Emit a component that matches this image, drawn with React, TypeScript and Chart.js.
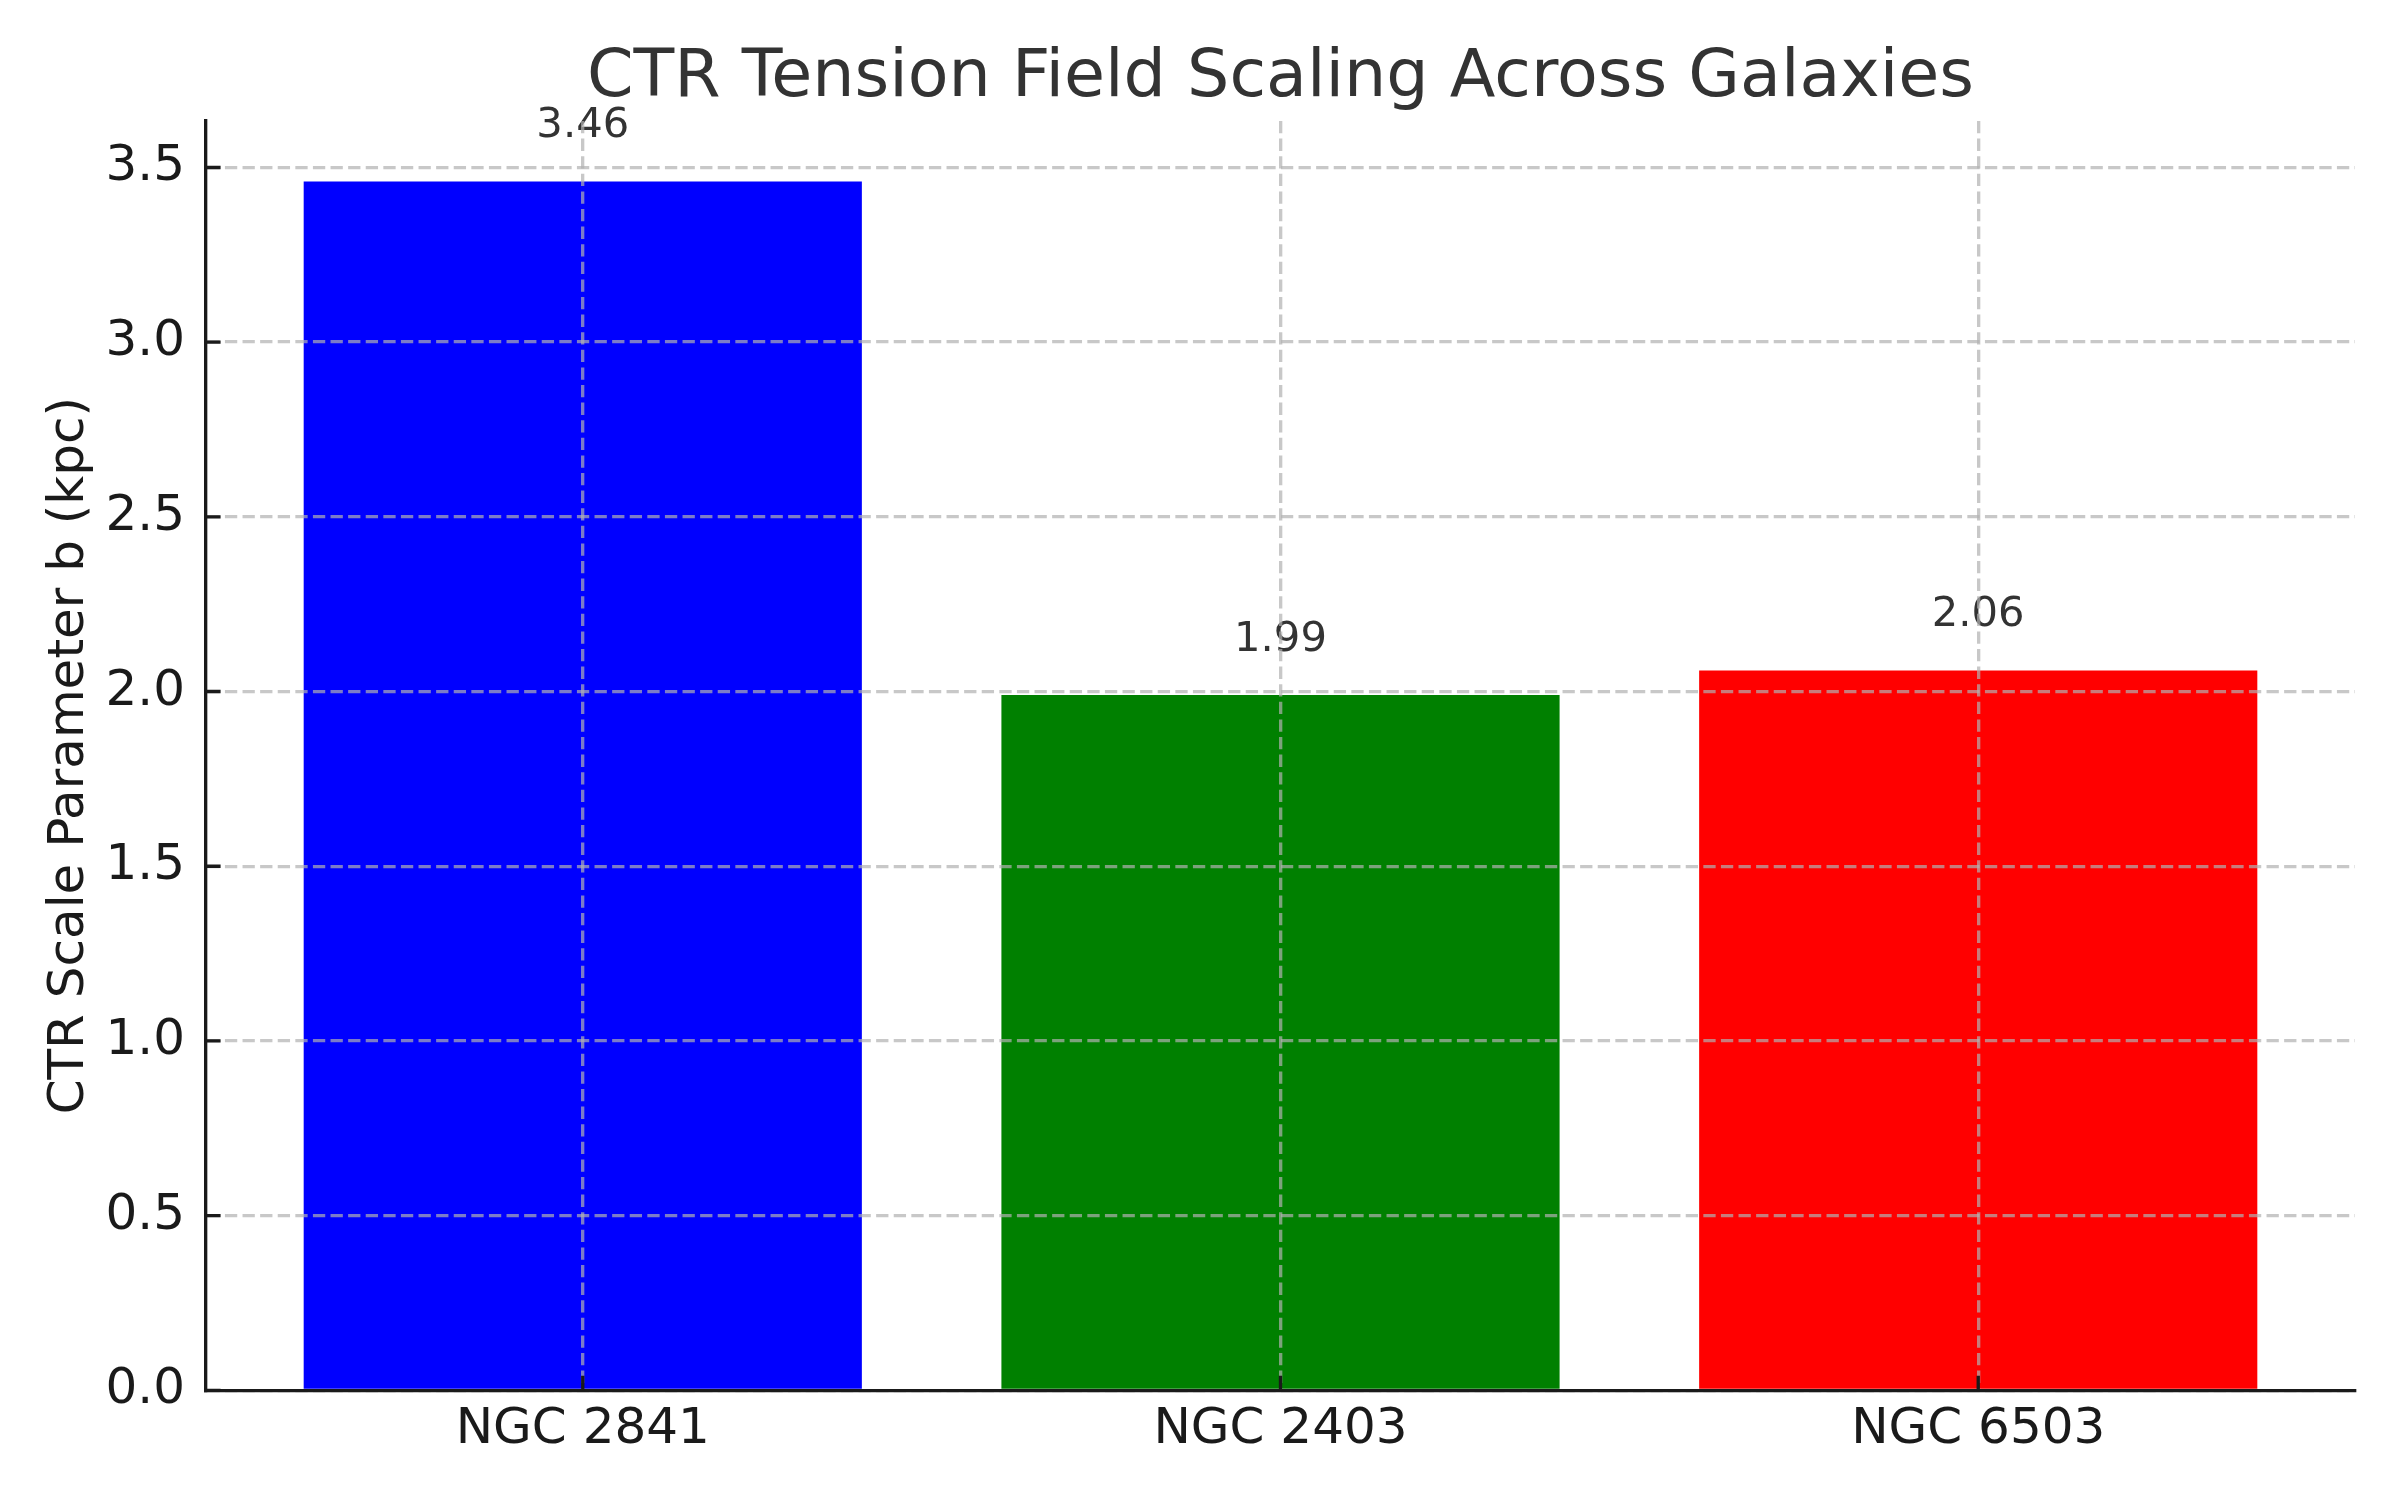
import React, { useEffect, useRef } from 'react';
import { Chart, registerables } from 'chart.js';

Chart.register(...registerables);

const categories = ['NGC 2841', 'NGC 2403', 'NGC 6503'];
const values = [3.46, 1.99, 2.06];
const barColors = ['#0000ff', '#008000', '#ff0000'];
const yTicks = [0, 0.5, 1, 1.5, 2, 2.5, 3, 3.5];
const xTicks = [0, 1, 2];
const titleText = 'CTR Tension Field Scaling Across Galaxies';
const yLabel = 'CTR Scale Parameter b (kpc)';
const yMax = 3.633;
const xMin = -0.54;
const xMax = 2.54;
const labelOffset = 0.1;

const FONT = '"DejaVu Sans", "Liberation Sans", sans-serif';
const INK = '#1a1a1a';
const GRID = 'rgba(176,176,176,0.7)';

const overlay = {
  id: 'overlay',
  afterDatasetsDraw(chart: any) {
    const ctx = chart.ctx;
    const xs = chart.scales.x;
    const ys = chart.scales.y;
    ctx.save();
    ctx.font = `41.7px ${FONT}`;
    ctx.fillStyle = '#333333';
    ctx.textAlign = 'center';
    ctx.textBaseline = 'alphabetic';
    values.forEach((v, i) => {
      ctx.fillText(v.toFixed(2), xs.getPixelForValue(xTicks[i]), ys.getPixelForValue(v + labelOffset) - 9.4);
    });
    ctx.restore();
  },
  afterDraw(chart: any) {
    const ctx = chart.ctx;
    const xs = chart.scales.x;
    const ys = chart.scales.y;
    const area = chart.chartArea;
    const len = 14.6;
    ctx.save();
    ctx.strokeStyle = INK;
    ctx.lineWidth = 3.33;
    ctx.beginPath();
    yTicks.forEach((t) => {
      const py = ys.getPixelForValue(t);
      ctx.moveTo(area.left, py);
      ctx.lineTo(area.left + len, py);
    });
    xTicks.forEach((t) => {
      const px = xs.getPixelForValue(t);
      ctx.moveTo(px, area.bottom);
      ctx.lineTo(px, area.bottom - len);
    });
    ctx.stroke();
    // title centred over the axes
    ctx.font = `66.7px ${FONT}`;
    ctx.fillStyle = '#333333';
    ctx.textAlign = 'center';
    ctx.textBaseline = 'alphabetic';
    ctx.fillText(titleText, (area.left + area.right) / 2, area.top - 25);
    ctx.restore();
  },
};

export default function App() {
  const ref = useRef<HTMLCanvasElement | null>(null);

  useEffect(() => {
    document.body.style.margin = '0';
    const canvas = ref.current;
    if (!canvas) return;
    const chart = new Chart(canvas, {
      type: 'bar',
      data: {
        datasets: [
          {
            data: values.map((v, i) => ({ x: xTicks[i], y: v })),
            backgroundColor: barColors,
            borderWidth: 0,
            barPercentage: 0.8,
            categoryPercentage: 1.0,
          },
        ],
      },
      options: {
        responsive: false,
        animation: false,
        devicePixelRatio: 1,
        layout: { padding: { left: 0, right: 45, top: 121, bottom: 0 } },
        plugins: {
          legend: { display: false },
          tooltip: { enabled: false },
          title: { display: false },
        },
        scales: {
          x: {
            type: 'linear',
            min: xMin,
            max: xMax,
            offset: false,
            afterBuildTicks: (scale: any) => {
              scale.ticks = xTicks.map((v) => ({ value: v }));
            },
            afterFit: (scale: any) => {
              scale.height = 109.7;
            },
            ticks: {
              color: INK,
              font: { family: FONT, size: 50 },
              padding: 10,
              maxRotation: 0,
              autoSkip: false,
              callback: (v: any) => categories[Math.round(Number(v))] ?? '',
            },
            grid: {
              color: GRID,
              lineWidth: 3.33,
              drawTicks: false,
              offset: false,
              z: 1,
            },
            border: { display: true, color: INK, width: 3.33, dash: [12.3, 5.3], z: 2 },
          },
          y: {
            type: 'linear',
            min: 0,
            max: yMax,
            afterBuildTicks: (scale: any) => {
              scale.ticks = yTicks.map((v) => ({ value: v }));
            },
            afterFit: (scale: any) => {
              scale.width = 206;
            },
            ticks: {
              color: INK,
              font: { family: FONT, size: 50 },
              padding: 21,
              callback: (v: any) => Number(v).toFixed(1),
            },
            grid: {
              color: GRID,
              lineWidth: 3.33,
              drawTicks: false,
              z: 1,
            },
            border: { display: true, color: INK, width: 3.33, dash: [12.3, 5.3], z: 2 },
            title: {
              display: true,
              text: yLabel,
              color: INK,
              font: { family: FONT, size: 50, lineHeight: 1.2 },
              padding: { top: 40, bottom: 0 },
            },
          },
        },
      },
      plugins: [overlay],
    } as any);
    return () => chart.destroy();
  }, []);

  return (
    <div style={{ position: 'fixed', left: 0, top: 0, width: 2400, height: 1500, background: '#ffffff' }}>
      <canvas ref={ref} width={2400} height={1500} style={{ width: 2400, height: 1500, display: 'block' }} />
    </div>
  );
}
